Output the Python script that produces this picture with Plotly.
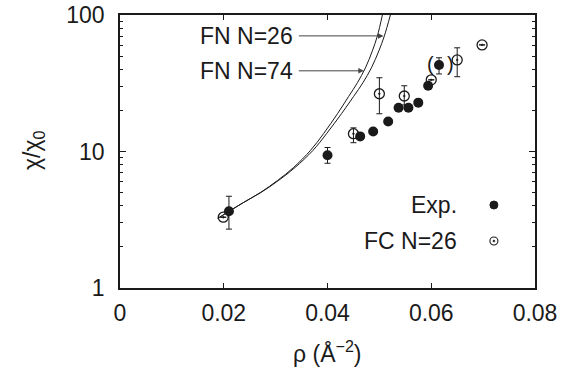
import math
import plotly.graph_objects as go

# Experimental data (filled circles)
exp_rho = [0.021, 0.040, 0.0463, 0.0488, 0.0517, 0.0537, 0.0556, 0.0575, 0.0594, 0.0615]
exp_chi = [3.65, 9.4, 12.9, 14.0, 16.6, 20.9, 20.9, 22.8, 30.3, 43.0]
exp_err_plus = [1.05, 1.3, 0, 0, 0, 0, 0, 0, 0, 5.6]
exp_err_minus = [0.95, 1.2, 0, 0, 0, 0, 0, 0, 0, 6.0]

# FC N=26 (open circles with dot)
fc_rho = [0.0199, 0.045, 0.050, 0.0548, 0.060, 0.065, 0.0698]
fc_chi = [3.3, 13.5, 26.5, 25.5, 33.5, 46.9, 60.4]
fc_err_plus = [0, 1.4, 8.2, 4.8, 0, 10.6, 0]
fc_err_minus = [0, 1.9, 7.6, 3.6, 0, 11.6, 0]

# FN curves
fn_chi = [3.24, 3.71, 4.24, 5.02, 6.14, 7.64, 10.2, 13.5, 18.9, 25.2, 31.9, 41.0, 54.6, 70.3, 100.0]
fn74_rho = [0.01885, 0.02135, 0.02385, 0.02712, 0.03038, 0.03346, 0.03673, 0.03923, 0.04192,
            0.04404, 0.04577, 0.04731, 0.04865, 0.04962, 0.05058]
fn26_rho = [0.01885, 0.02135, 0.02385, 0.02721, 0.03058, 0.03375, 0.03721, 0.03981, 0.04269,
            0.04500, 0.04683, 0.04846, 0.04990, 0.05096, 0.05212]

x_ticks = [0, 0.02, 0.04, 0.06, 0.08]
x_ticklabels = ["0", "0.02", "0.04", "0.06", "0.08"]
y_ticks = [1, 10, 100]
y_ticklabels = ["1", "10", "100"]
y_minor = [2, 3, 4, 5, 6, 7, 8, 9, 20, 30, 40, 50, 60, 70, 80, 90]

FONT = "Liberation Sans, Arial, Helvetica, sans-serif"
INK = "#1a1a1a"
FS = 23

fig = go.Figure()

for rr in (fn26_rho, fn74_rho):
    fig.add_trace(go.Scatter(x=rr, y=fn_chi, mode="lines",
                             line=dict(color=INK, width=1, shape="spline", smoothing=1.0),
                             showlegend=False, hoverinfo="skip"))

fig.add_trace(go.Scatter(
    x=fc_rho, y=fc_chi, mode="markers",
    marker=dict(symbol="circle-open-dot", size=10, color=INK, line=dict(width=1.3, color=INK)),
    error_y=dict(type="data", array=fc_err_plus, arrayminus=fc_err_minus, color=INK, thickness=1, width=3),
    showlegend=False))

fig.add_trace(go.Scatter(
    x=exp_rho, y=exp_chi, mode="markers",
    marker=dict(symbol="circle", size=10, color=INK),
    error_y=dict(type="data", array=exp_err_plus, arrayminus=exp_err_minus, color=INK, thickness=1, width=3),
    showlegend=False))

# parentheses around the last experimental point
for txt, sh in (("(", -9), (")", 11)):
    fig.add_annotation(x=exp_rho[-1], y=math.log10(exp_chi[-1]), text=txt, showarrow=False,
                       font=dict(family=FONT, size=20, color=INK), xshift=sh, yshift=1)

# FN labels with arrows
for label, yv, head_x in (("FN N=26", 70.3, 0.0508), ("FN N=74", 39.0, 0.0470)):
    fig.add_annotation(x=head_x, y=math.log10(yv), ax=0.02445, ay=math.log10(yv),
                       axref="x", ayref="y", text=label, showarrow=True, arrowhead=2,
                       arrowsize=1.1, arrowwidth=1, arrowcolor="#444", borderpad=5,
                       font=dict(family=FONT, size=FS, color=INK))

# manual legend
leg_x_text = 0.816
leg_x_mark = 0.901
for label, yp in (("Exp.", 0.304), ("FC N=26", 0.172)):
    fig.add_annotation(xref="paper", yref="paper", x=leg_x_text, y=yp, text=label, showarrow=False,
                       xanchor="right", yanchor="middle", font=dict(family=FONT, size=FS, color=INK))
fig.add_shape(type="circle", xref="paper", yref="paper", xsizemode="pixel", ysizemode="pixel",
              xanchor=leg_x_mark, yanchor=0.304, x0=-4, x1=4, y0=-4, y1=4,
              fillcolor=INK, line=dict(color=INK, width=1))
fig.add_shape(type="circle", xref="paper", yref="paper", xsizemode="pixel", ysizemode="pixel",
              xanchor=leg_x_mark, yanchor=0.172, x0=-4, x1=4, y0=-4, y1=4,
              fillcolor="white", line=dict(color=INK, width=1.1))
fig.add_shape(type="circle", xref="paper", yref="paper", xsizemode="pixel", ysizemode="pixel",
              xanchor=leg_x_mark, yanchor=0.172, x0=-1, x1=1, y0=-1, y1=1,
              fillcolor=INK, line=dict(color=INK, width=0.5))

# axis titles
fig.add_annotation(xref="paper", yref="paper", x=0.5, y=-0.235, yanchor="middle", text="ρ (Å<sup>−2</sup>)",
                   showarrow=False, font=dict(family=FONT, size=FS, color=INK))
fig.add_annotation(xref="paper", yref="paper", x=-0.21, y=0.505, xanchor="center", yanchor="middle",
                   text="χ/χ<sub>0</sub>", textangle=-90, showarrow=False,
                   font=dict(family=FONT, size=FS, color=INK))

fig.update_xaxes(range=[0, 0.08], tickvals=x_ticks, ticktext=x_ticklabels, ticks="inside", ticklen=5,
                 tickcolor=INK, showline=True, linecolor=INK, linewidth=1.5, mirror="ticks",
                 showgrid=False, zeroline=False, ticklabelstandoff=4, automargin=False,
                 tickfont=dict(family=FONT, size=FS, color=INK))
fig.update_yaxes(type="log", range=[0, 2], tickvals=y_ticks, ticktext=y_ticklabels, ticks="inside", ticklen=6,
                 tickcolor=INK, showline=True, linecolor=INK, linewidth=1.5, mirror="ticks",
                 showgrid=False, zeroline=False, ticklabelstandoff=9, automargin=False,
                 minor=dict(ticks="inside", ticklen=3, tickvals=y_minor, tickcolor=INK, showgrid=False),
                 tickfont=dict(family=FONT, size=FS, color=INK))

fig.update_layout(width=563, height=371, margin=dict(l=120, r=28, t=15, b=83),
                  plot_bgcolor="white", paper_bgcolor="white", showlegend=False)

fig.write_html("out.html", config={"displayModeBar": False},
               post_script="document.body.style.margin='0';document.body.style.overflow='hidden';")
